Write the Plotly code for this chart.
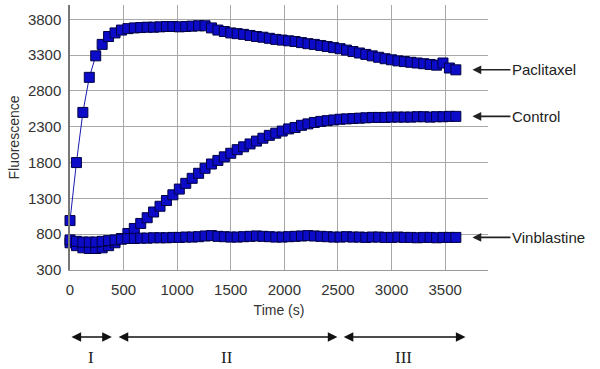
import plotly.graph_objects as go

time_s = list(range(0, 3601, 60))

paclitaxel = [990, 1800, 2500, 2990, 3290, 3450, 3560, 3610, 3650, 3670,
              3680, 3685, 3690, 3690, 3695, 3700, 3700, 3695, 3700, 3705,
              3710, 3710, 3680, 3650, 3630, 3610, 3600, 3590, 3575, 3560,
              3550, 3535, 3520, 3510, 3500, 3490, 3475, 3460, 3450, 3435,
              3420, 3405, 3390, 3370, 3350, 3330, 3310, 3290, 3270, 3250,
              3235, 3220, 3210, 3200, 3190, 3180, 3170, 3160, 3190, 3120,
              3095]

control = [680, 640, 610, 600, 600, 610, 640, 680, 740, 810,
           880, 950, 1030, 1110, 1190, 1270, 1350, 1430, 1510, 1580,
           1650, 1720, 1780, 1830, 1880, 1930, 1980, 2020, 2060, 2100,
           2140, 2180, 2210, 2240, 2270, 2290, 2320, 2340, 2360, 2375,
           2385, 2395, 2405, 2410, 2415, 2420, 2425, 2430, 2430, 2430,
           2435, 2435, 2435, 2435, 2440, 2440, 2435, 2440, 2440, 2445,
           2445]

vinblastine = [720, 700, 690, 690, 690, 700, 710, 720, 730, 740,
               740, 745, 745, 750, 750, 750, 755, 755, 760, 760,
               765, 775, 780, 770, 765, 760, 760, 765, 770, 775,
               770, 765, 760, 760, 765, 770, 775, 780, 775, 770,
               765, 760, 760, 765, 760, 760, 755, 760, 760, 755,
               755, 760, 755, 755, 750, 755, 755, 750, 755, 755,
               755]

series_names = ["Paclitaxel", "Control", "Vinblastine"]
series_values = [paclitaxel, control, vinblastine]

phase_labels = ["I", "II", "III"]
phase_start = [0, 440, 2540]
phase_end = [390, 2495, 3690]

x_ticks = [0, 500, 1000, 1500, 2000, 2500, 3000, 3500]
y_ticks = [300, 800, 1300, 1800, 2300, 2800, 3300, 3800]

fig = go.Figure()
for name, vals in zip(series_names, series_values):
    fig.add_trace(go.Scatter(
        x=time_s, y=vals, name=name, mode="lines+markers",
        line=dict(color="#1a1ab0", width=1),
        marker=dict(symbol="square", size=10, color="#0c0cc8",
                    line=dict(color="#000045", width=1)),
        cliponaxis=False, showlegend=False))

annotations = []
for name, vals in zip(series_names, series_values):
    annotations.append(dict(x=3755, y=vals[-1], xref="x", yref="y",
                            ax=38, ay=0, text=name, showarrow=True,
                            xanchor="left", yanchor="middle",
                            arrowhead=2, arrowsize=1.1, arrowwidth=1.6,
                            arrowcolor="#222",
                            font=dict(family="Arial", size=15, color="#222")))

for lab, s, e in zip(phase_labels, phase_start, phase_end):
    annotations.append(dict(x=e, y=-0.253, xref="x", yref="paper",
                            ax=s, ay=0, axref="x", ayref="pixel",
                            text="", showarrow=True, arrowside="end+start",
                            arrowhead=2, arrowsize=1.2, arrowwidth=1.6,
                            arrowcolor="#111"))
    annotations.append(dict(x=(s + e) / 2, y=-0.375, xref="x", yref="paper",
                            text=lab, showarrow=False,
                            font=dict(family="Liberation Serif", size=17, color="#222")))

fig.update_layout(
    width=600, height=369,
    margin=dict(l=70, r=112, t=5, b=99),
    paper_bgcolor="white", plot_bgcolor="white",
    font=dict(family="Arial", size=15, color="#333"),
    annotations=annotations,
    xaxis=dict(range=[0, 3900], tickvals=x_ticks, showgrid=True,
               gridcolor="#a8a8a8", gridwidth=1, zeroline=False,
               showline=True, linecolor="#999", linewidth=1,
               ticks="outside", ticklen=6, tickcolor="rgba(0,0,0,0)",
               automargin=False,
               title=dict(text="Time (s)", font=dict(size=14), standoff=8)),
    yaxis=dict(range=[300, 4000], tickvals=y_ticks, showgrid=True,
               gridcolor="#a8a8a8", gridwidth=1, zeroline=False,
               showline=True, linecolor="#777", linewidth=1.5,
               ticks="outside", ticklen=4, tickcolor="rgba(0,0,0,0)",
               automargin=False,
               title=dict(text="Fluorescence", font=dict(size=14), standoff=5)),
)

fig.write_html("out.html", config={"displayModeBar": False},
               post_script="document.body.style.margin='0';")
